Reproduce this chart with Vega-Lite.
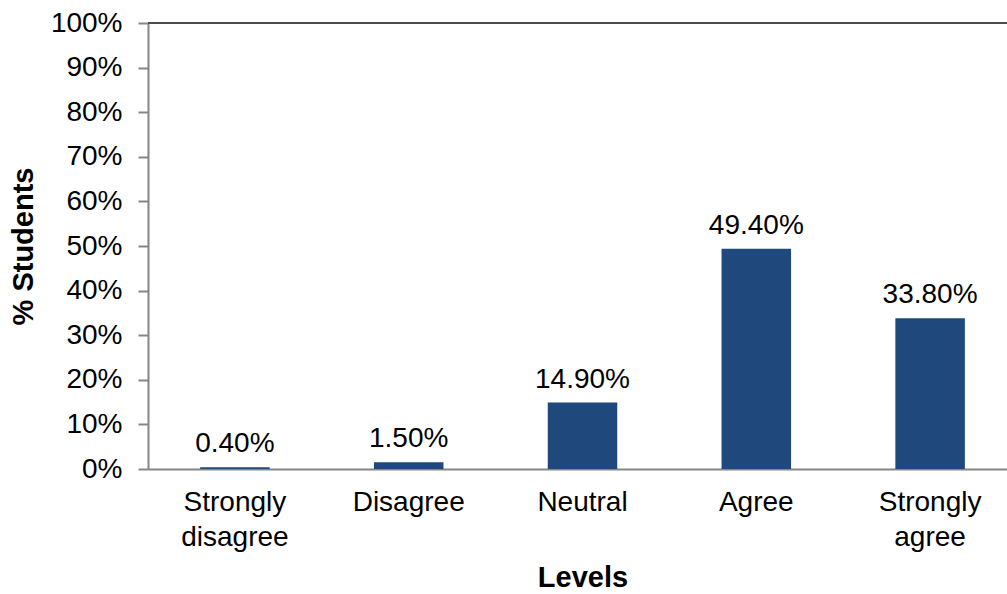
{
  "$schema": "https://vega.github.io/schema/vega-lite/v6.json",
  "autosize": "none",
  "padding": {"left": 148, "top": 23, "right": 0, "bottom": 125},
  "width": 869,
  "height": 446,
  "background": "white",
  "config": {
    "view": {"stroke": null},
    "font": "Liberation Sans"
  },
  "data": {
    "values": [
      {"level": "Strongly disagree", "pct": 0.004},
      {"level": "Disagree", "pct": 0.015},
      {"level": "Neutral", "pct": 0.149},
      {"level": "Agree", "pct": 0.494},
      {"level": "Strongly agree", "pct": 0.338}
    ]
  },
  "layer": [
    {
      "mark": {"type": "bar", "color": "#1F497D"},
      "encoding": {
        "x": {
          "field": "level",
          "type": "nominal",
          "sort": null,
          "scale": {"paddingInner": 0.6},
          "axis": {
            "title": "Levels",
            "titleFont": "Liberation Sans",
            "titleFontSize": 29,
            "titleFontWeight": "bold",
            "titleColor": "#000000",
            "titlePadding": 12,
            "labelAngle": 0,
            "labelFont": "Liberation Sans",
            "labelFontSize": 28,
            "labelColor": "#000000",
            "labelPadding": 19,
            "labelLineHeight": 35,
            "labelExpr": "split(datum.label, ' ')",
            "ticks": false,
            "domainColor": "#868686",
            "domainWidth": 2
          }
        },
        "y": {
          "field": "pct",
          "type": "quantitative",
          "scale": {"domain": [0, 1]},
          "axis": {
            "title": "% Students",
            "titleFont": "Liberation Sans",
            "titleFontSize": 29,
            "titleFontWeight": "bold",
            "titleColor": "#000000",
            "titlePadding": 12,
            "format": ".0%",
            "values": [0, 0.1, 0.2, 0.3, 0.4, 0.5, 0.6, 0.7, 0.8, 0.9, 1],
            "labelFont": "Liberation Sans",
            "labelFontSize": 28,
            "labelColor": "#000000",
            "labelPadding": 16,
            "tickSize": 10,
            "tickColor": "#868686",
            "tickWidth": 2,
            "domainColor": "#868686",
            "domainWidth": 2,
            "grid": false
          }
        }
      }
    },
    {
      "mark": {"type": "text", "baseline": "alphabetic", "dy": -15, "font": "Liberation Sans", "fontSize": 28, "color": "#000000"},
      "encoding": {
        "x": {"field": "level", "type": "nominal", "sort": null},
        "y": {"field": "pct", "type": "quantitative"},
        "text": {"field": "pct", "type": "quantitative", "format": ".2%"}
      }
    },
    {
      "mark": {"type": "rule", "color": "#4D4D4D", "strokeWidth": 2},
      "encoding": {"y": {"datum": 1}}
    }
  ]
}
